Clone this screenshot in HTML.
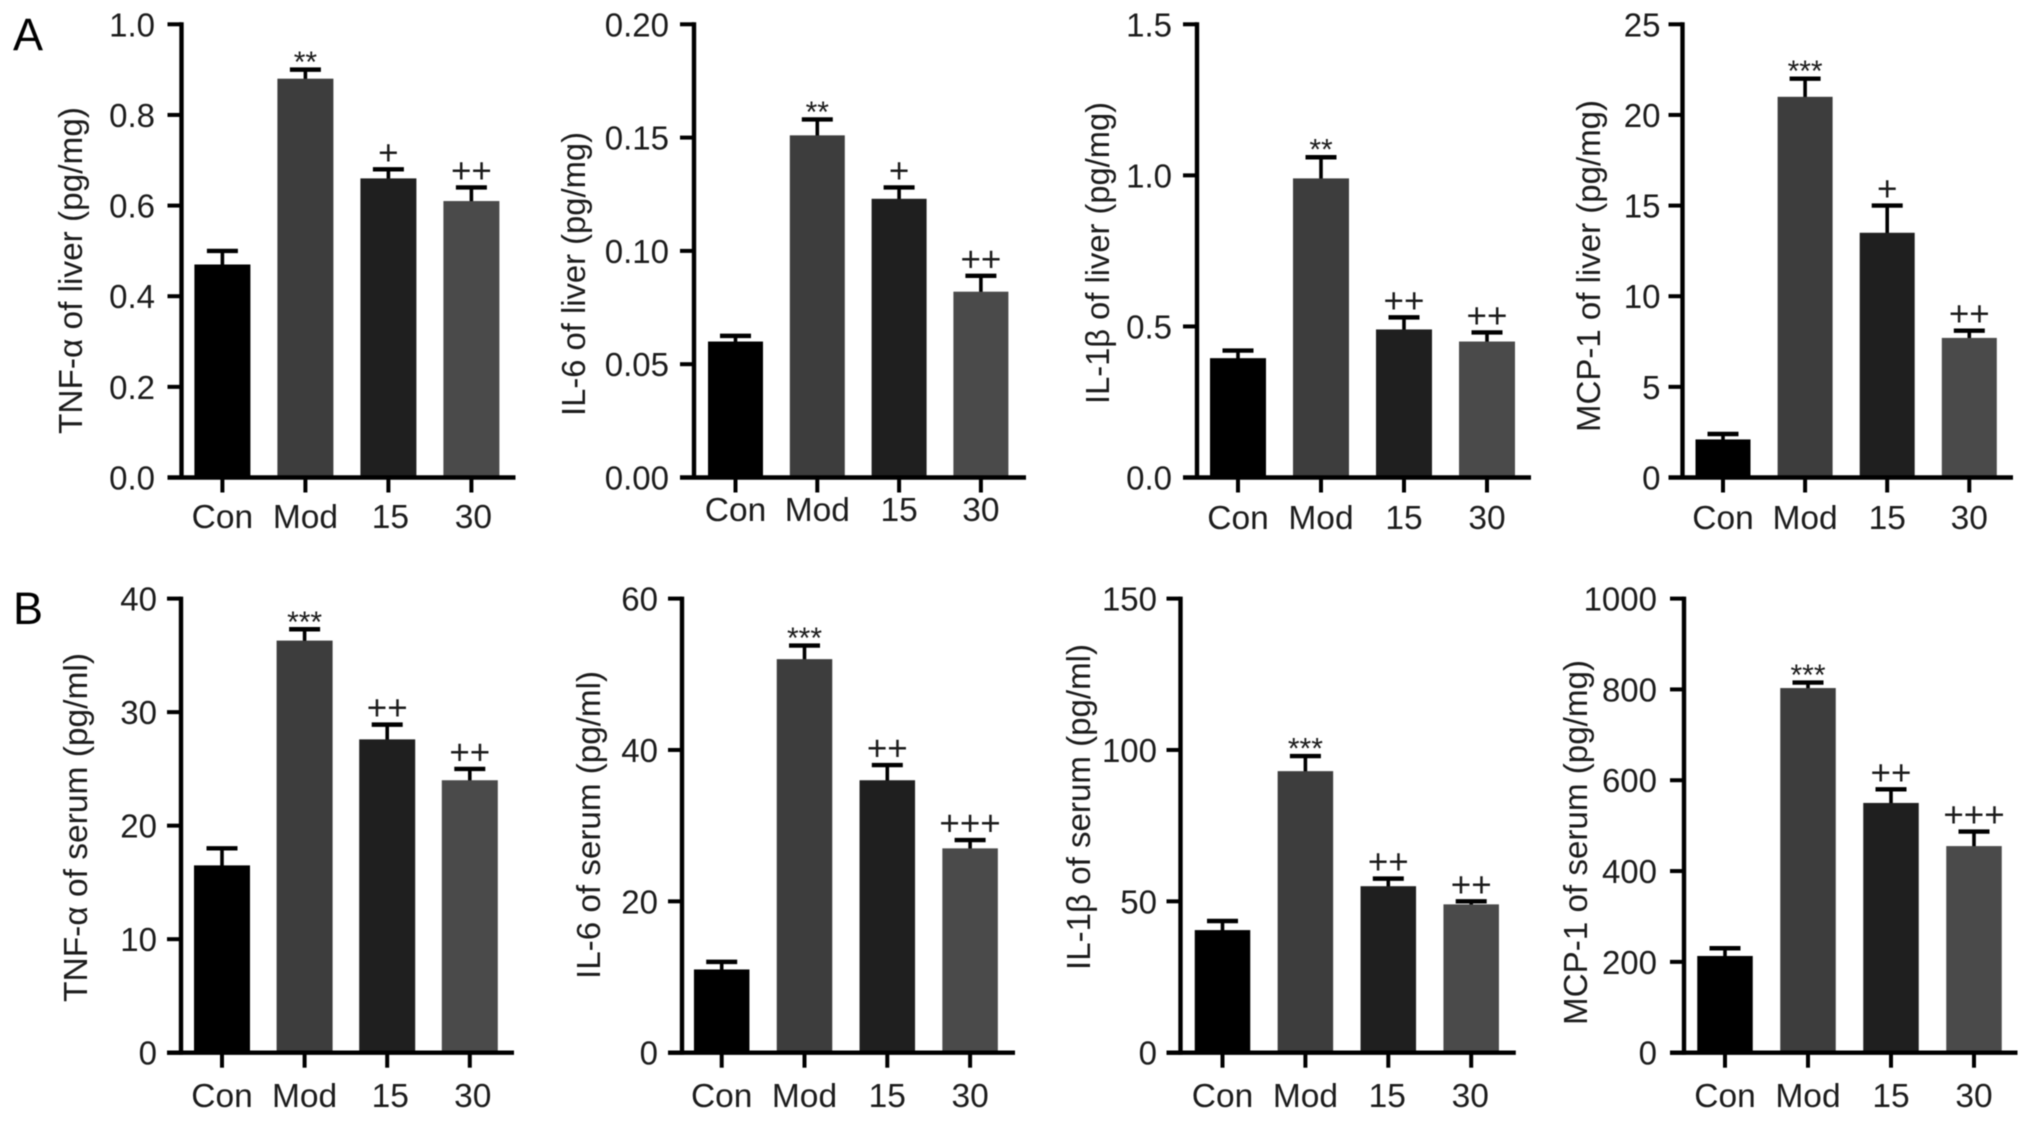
<!DOCTYPE html>
<html lang="en">
<head>
<meta charset="utf-8">
<title>Liver and serum cytokine levels</title>
<style>
html,body{margin:0;padding:0;background:#fff;width:2032px;height:1121px;overflow:hidden}
svg{display:block;filter:blur(0.6px)}
text{font-family:"Liberation Sans",sans-serif;fill:#1c1c1c}
</style>
</head>
<body>
<svg id="figure" xmlns="http://www.w3.org/2000/svg" width="2032" height="1121" viewBox="0 0 2032 1121">
  <text x="13" y="50" font-size="45" style="fill:#000">A</text>
  <text x="13" y="624" font-size="45" style="fill:#000">B</text>
</svg>
<script>
const categories = ['Con', 'Mod', '15', '30'];

const tnfLiverValues = [0.47, 0.88, 0.66, 0.61];
const tnfLiverErrorTops = [0.50, 0.90, 0.68, 0.64];
const tnfLiverTicks = ['0.0', '0.2', '0.4', '0.6', '0.8', '1.0'];
const tnfLiverMarks = ['', '**', '+', '++'];

const il6LiverValues = [0.060, 0.151, 0.123, 0.082];
const il6LiverErrorTops = [0.0625, 0.158, 0.128, 0.089];
const il6LiverTicks = ['0.00', '0.05', '0.10', '0.15', '0.20'];
const il6LiverMarks = ['', '**', '+', '++'];

const il1LiverValues = [0.395, 0.99, 0.49, 0.45];
const il1LiverErrorTops = [0.42, 1.06, 0.53, 0.48];
const il1LiverTicks = ['0.0', '0.5', '1.0', '1.5'];
const il1LiverMarks = ['', '**', '++', '++'];

const mcpLiverValues = [2.1, 21, 13.5, 7.7];
const mcpLiverErrorTops = [2.4, 22, 15, 8.1];
const mcpLiverTicks = ['0', '5', '10', '15', '20', '25'];
const mcpLiverMarks = ['', '***', '+', '++'];

const tnfSerumValues = [16.5, 36.3, 27.6, 24];
const tnfSerumErrorTops = [18, 37.3, 28.9, 25];
const tnfSerumTicks = ['0', '10', '20', '30', '40'];
const tnfSerumMarks = ['', '***', '++', '++'];

const il6SerumValues = [11, 52, 36, 27];
const il6SerumErrorTops = [12, 53.8, 38, 28.1];
const il6SerumTicks = ['0', '20', '40', '60'];
const il6SerumMarks = ['', '***', '++', '+++'];

const il1SerumValues = [40.5, 93, 55, 49];
const il1SerumErrorTops = [43.5, 98, 57.5, 50];
const il1SerumTicks = ['0', '50', '100', '150'];
const il1SerumMarks = ['', '***', '++', '++'];

const mcpSerumValues = [213, 803, 550, 455];
const mcpSerumErrorTops = [230, 815, 580, 487];
const mcpSerumTicks = ['0', '200', '400', '600', '800', '1000'];
const mcpSerumMarks = ['', '***', '++', '+++'];

const barColors = ['#000000', '#3d3d3d', '#1f1f1f', '#4a4a4a'];

const panels = [
  {key:'tnf-liver', title:'TNF-α of liver (pg/mg)', values:tnfLiverValues, tops:tnfLiverErrorTops, ticks:tnfLiverTicks, marks:tnfLiverMarks,
   axisX:181.5, axisEnd:515.5, top:24.3, bottom:477.5, first:222.4, step:83, barW:56, labelRight:155, catBase:528, numShift:2, titleX:82, titleY:270.5, titleLen:327},
  {key:'il6-liver', title:'IL-6 of liver (pg/mg)', values:il6LiverValues, tops:il6LiverErrorTops, ticks:il6LiverTicks, marks:il6LiverMarks,
   axisX:694, axisEnd:1026, top:24.3, bottom:477.5, first:735.5, step:81.8, barW:55, labelRight:669, catBase:521, numShift:0, titleX:585, titleY:274, titleLen:284},
  {key:'il1-liver', title:'IL-1β of liver (pg/mg)', values:il1LiverValues, tops:il1LiverErrorTops, ticks:il1LiverTicks, marks:il1LiverMarks,
   axisX:1197, axisEnd:1531, top:24.3, bottom:477.5, first:1238, step:83, barW:56, labelRight:1172, catBase:529, numShift:0, titleX:1109, titleY:253, titleLen:302},
  {key:'mcp-liver', title:'MCP-1 of liver (pg/mg)', values:mcpLiverValues, tops:mcpLiverErrorTops, ticks:mcpLiverTicks, marks:mcpLiverMarks,
   axisX:1682.5, axisEnd:2013, top:24.3, bottom:477.5, first:1723, step:82.1, barW:55, labelRight:1660.5, catBase:529, numShift:0, titleX:1600, titleY:266, titleLen:332},
  {key:'tnf-serum', title:'TNF-α of serum (pg/ml)', values:tnfSerumValues, tops:tnfSerumErrorTops, ticks:tnfSerumTicks, marks:tnfSerumMarks,
   axisX:181, axisEnd:514, top:598.6, bottom:1052.7, first:222, step:82.6, barW:56, labelRight:157, catBase:1107, numShift:3, titleX:87, titleY:827.5, titleLen:349},
  {key:'il6-serum', title:'IL-6 of serum (pg/ml)', values:il6SerumValues, tops:il6SerumErrorTops, ticks:il6SerumTicks, marks:il6SerumMarks,
   axisX:682, axisEnd:1015, top:598.6, bottom:1052.7, first:721.7, step:82.8, barW:55.5, labelRight:658, catBase:1107, numShift:0, titleX:600, titleY:825, titleLen:308},
  {key:'il1-serum', title:'IL-1β of serum (pg/ml)', values:il1SerumValues, tops:il1SerumErrorTops, ticks:il1SerumTicks, marks:il1SerumMarks,
   axisX:1180.5, axisEnd:1515.8, top:598.6, bottom:1052.7, first:1222.5, step:82.9, barW:55.5, labelRight:1157, catBase:1107, numShift:-1, titleX:1090, titleY:807, titleLen:326},
  {key:'mcp-serum', title:'MCP-1 of serum (pg/mg)', values:mcpSerumValues, tops:mcpSerumErrorTops, ticks:mcpSerumTicks, marks:mcpSerumMarks,
   axisX:1684, axisEnd:2017.5, top:598.6, bottom:1052.7, first:1725, step:83, barW:55.5, labelRight:1657, catBase:1107, numShift:0, titleX:1587, titleY:842.5, titleLen:365}
];

const svg = document.getElementById('figure');
const NS = 'http://www.w3.org/2000/svg';

function make(tag, parent) {
  const el = document.createElementNS(NS, tag);
  parent.appendChild(el);
  return el;
}
function drawLine(parent, x1, y1, x2, y2, width) {
  const el = make('line', parent);
  el.setAttribute('x1', x1);
  el.setAttribute('y1', y1);
  el.setAttribute('x2', x2);
  el.setAttribute('y2', y2);
  el.setAttribute('stroke', '#000');
  el.setAttribute('stroke-width', width);
  return el;
}
function drawText(parent, x, y, str, size, anchor) {
  const el = make('text', parent);
  el.setAttribute('x', x);
  el.setAttribute('y', y);
  el.setAttribute('font-size', size);
  el.setAttribute('text-anchor', anchor);
  el.textContent = str;
  return el;
}

panels.forEach(function (p) {
  const maxTick = parseFloat(p.ticks[p.ticks.length - 1]);
  const yScale = function (v) { return p.bottom - (v / maxTick) * (p.bottom - p.top); };
  const xScale = function (i) { return p.first + i * p.step; };

  const group = make('g', svg);
  
  

  p.values.forEach(function (value, i) {
    const cx = xScale(i);
    const topY = yScale(p.tops[i]);
    const barY = yScale(value);

    const stem = drawLine(group, cx, topY, cx, barY + 1, 3.6);
    
    

    const cap = drawLine(group, cx - 15.5, topY, cx + 15.5, topY, 4.4);
    
    

    const bar = make('rect', group);
    bar.setAttribute('x', cx - p.barW / 2);
    bar.setAttribute('y', barY);
    bar.setAttribute('width', p.barW);
    bar.setAttribute('height', p.bottom - barY);
    bar.setAttribute('fill', barColors[i]);
    
    

    const mark = p.marks[i];
    if (mark) {
      const isStar = mark.charAt(0) === '*';
      const t = drawText(group, cx, topY + (isStar ? 2.5 : -5), mark, isStar ? 30 : 35, 'middle');
      
      
    }

    const tick = drawLine(group, cx, p.bottom, cx, p.bottom + 15, 4);
    
    

    const cat = drawText(group, cx + (i > 1 ? p.numShift : 0), p.catBase, categories[i], 33.5, 'middle');
    
    
  });

  const yAxis = drawLine(group, p.axisX, p.top - 2, p.axisX, p.bottom + 2, 4.4);
  
  

  const xAxis = drawLine(group, p.axisX - 14, p.bottom, p.axisEnd, p.bottom, 4.4);
  
  

  p.ticks.forEach(function (label) {
    const y = yScale(parseFloat(label));

    const tick = drawLine(group, p.axisX - 14, y, p.axisX, y, 4);
    
    

    const txt = drawText(group, p.labelRight, y + 12, label, 33, 'end');
    
    
  });

  const title = drawText(group, 0, 0, p.title, 33, 'middle');
  title.setAttribute('transform', 'translate(' + p.titleX + ' ' + p.titleY + ') rotate(-90)');
  title.setAttribute('textLength', p.titleLen);
  title.setAttribute('lengthAdjust', 'spacingAndGlyphs');
  
  
});
</script>
</body>
</html>
